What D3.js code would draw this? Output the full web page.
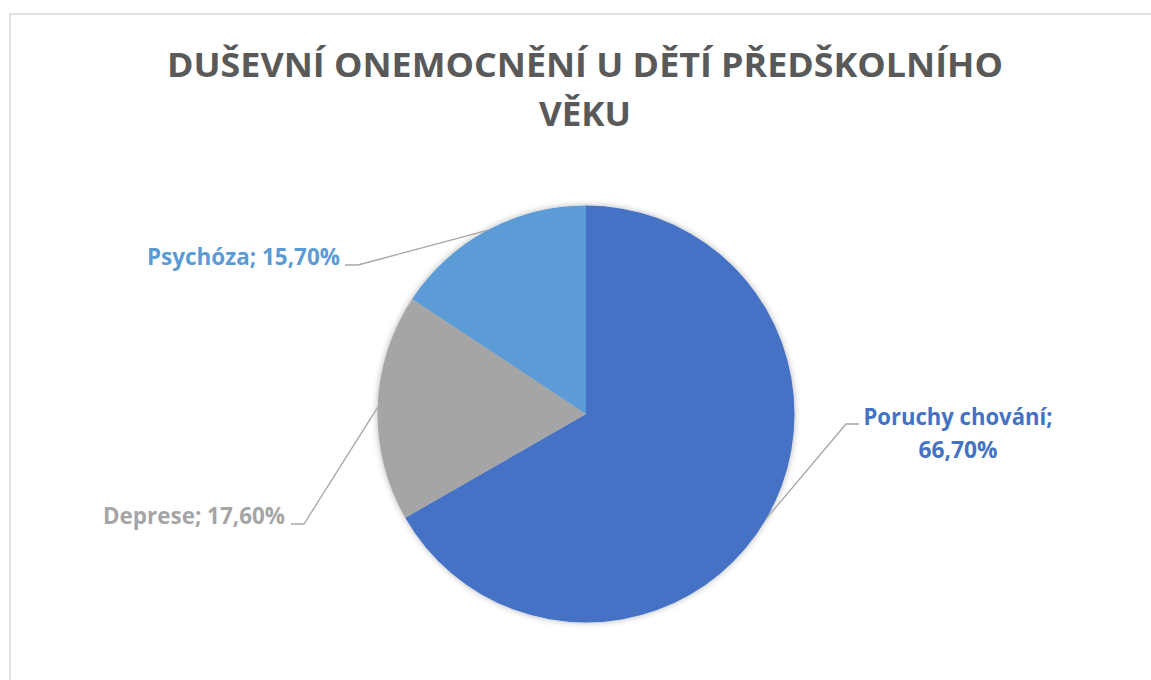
<!DOCTYPE html>
<html>
<head>
<meta charset="utf-8">
<script src="https://cdn.jsdelivr.net/npm/d3@7"></script>
<style>
  body { margin: 0; background: #fff; }
  text { font-family: "Open Sans", "Noto Sans", sans-serif; font-weight: bold; }
</style>
</head>
<body>
<div id="chart"></div>
<script>
// data
var categories = ["Poruchy chování", "Deprese", "Psychóza"];
var values = [66.7, 17.6, 15.7];
var valueLabels = ["66,70%", "17,60%", "15,70%"];
var colors = ["#4472C4", "#A5A5A5", "#5B9BD5"];
var titleLines = ["DUŠEVNÍ ONEMOCNĚNÍ U DĚTÍ PŘEDŠKOLNÍHO", "VĚKU"];

var width = 1151, height = 680;
var cx = 586, cy = 414, radius = 208.5;

var svg = d3.select("#chart").append("svg")
  .attr("width", width)
  .attr("height", height);

// soft shadow under the pie
var defs = svg.append("defs");
var f = defs.append("filter").attr("id", "shadow")
  .attr("x", "-20%").attr("y", "-20%").attr("width", "140%").attr("height", "140%");
f.append("feDropShadow")
  .attr("dx", 0).attr("dy", 0)
  .attr("stdDeviation", 3)
  .attr("flood-color", "#000")
  .attr("flood-opacity", 0.3);

// chart frame (cropped at right / bottom)
svg.append("rect")
  .attr("x", 10).attr("y", 14)
  .attr("width", width + 20).attr("height", height + 20)
  .attr("fill", "none")
  .attr("stroke", "#d9d9d9")
  .attr("stroke-width", 1.5);

// title
var titleY = [77, 126], titleW = [836, 92];
svg.selectAll(".title").data(titleLines).enter()
  .append("text")
  .attr("class", "title")
  .attr("x", 585)
  .attr("y", function(d, i) { return titleY[i]; })
  .attr("text-anchor", "middle")
  .attr("font-size", 34)
  .attr("fill", "#595959")
  .attr("textLength", function(d, i) { return titleW[i]; })
  .attr("lengthAdjust", "spacingAndGlyphs")
  .text(function(d) { return d; });

var data = categories.map(function(c, i) {
  return { name: c, value: values[i], label: valueLabels[i], color: colors[i] };
});

var pie = d3.pie()
  .sort(null)
  .value(function(d) { return d.value; });

var arc = d3.arc().innerRadius(0).outerRadius(radius);
var edge = d3.arc().innerRadius(radius).outerRadius(radius);

var arcs = pie(data);

var g = svg.append("g")
  .attr("transform", "translate(" + cx + "," + cy + ")");

g.append("g").attr("filter", "url(#shadow)")
  .selectAll("path").data(arcs).enter()
  .append("path")
  .attr("d", arc)
  .attr("fill", function(d) { return d.data.color; });

// label layout: elbow point of leader, text anchor position
var layout = [
  { elbow: [846, 424], kneeEnd: [859, 424], lines: [[958, 425], [958, 458]], anchor: "middle", widths: [189, 79] },
  { elbow: [304, 524], kneeEnd: [291, 524], lines: [[285, 524]], anchor: "end", widths: [182] },
  { elbow: [358, 265], kneeEnd: [345, 265], lines: [[340, 265]], anchor: "end", widths: [193] }
];

arcs.forEach(function(a, i) {
  var L = layout[i];
  var c = edge.centroid(a);
  var p0 = [cx + c[0], cy + c[1]];
  svg.append("path")
    .attr("d", d3.line()([p0, L.elbow, L.kneeEnd]))
    .attr("fill", "none")
    .attr("stroke", "#a6a6a6")
    .attr("stroke-width", 1.3);

  var texts = L.lines.length === 2
    ? [a.data.name + ";", a.data.label]
    : [a.data.name + "; " + a.data.label];
  texts.forEach(function(t, j) {
    svg.append("text")
      .attr("x", L.lines[j][0])
      .attr("y", L.lines[j][1])
      .attr("text-anchor", L.anchor)
      .attr("font-size", 23.5)
      .attr("fill", a.data.color)
      .attr("textLength", L.widths[j])
      .attr("lengthAdjust", "spacingAndGlyphs")
      .text(t);
  });
});
</script>
</body>
</html>
